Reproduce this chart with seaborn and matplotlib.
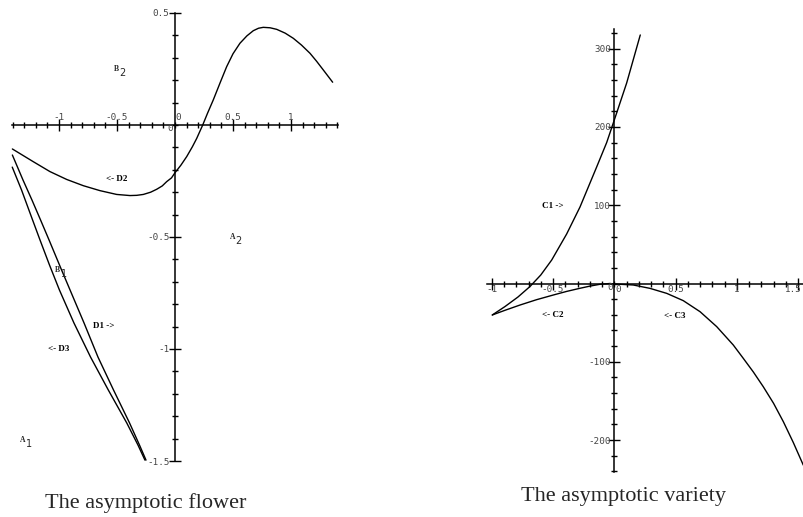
import numpy as np
import pandas as pd
import seaborn as sns
import matplotlib.pyplot as plt
from matplotlib.ticker import FixedLocator

# ------------------------------
# data
# ------------------------------
# left panel: the asymptotic flower
d2_x = [-1.402, -1.221, -1.078, -0.934, -0.790, -0.647, -0.503, -0.388, -0.330, -0.273,
        -0.210, -0.158, -0.110, -0.072, -0.030, 0.0, 0.050, 0.101, 0.150, 0.187, 0.239,
        0.280, 0.330, 0.390, 0.445, 0.500, 0.560, 0.620, 0.675, 0.720, 0.761, 0.820,
        0.877, 0.950, 1.020, 1.090, 1.164, 1.220, 1.278, 1.359]
d2_y = [-0.107, -0.164, -0.208, -0.243, -0.271, -0.293, -0.310, -0.315, -0.314, -0.310,
        -0.300, -0.287, -0.272, -0.253, -0.236, -0.213, -0.180, -0.141, -0.097, -0.060, 0.0,
        0.052, 0.112, 0.190, 0.260, 0.318, 0.365, 0.398, 0.421, 0.432, 0.436, 0.434,
        0.427, 0.410, 0.387, 0.357, 0.320, 0.285, 0.246, 0.191]

d1_x = [-1.402, -1.310, -1.233, -1.159, -1.086, -0.978, -0.879, -0.784, -0.664, -0.530,
        -0.392, -0.306, -0.250]
d1_y = [-0.134, -0.246, -0.335, -0.424, -0.513, -0.647, -0.768, -0.884, -1.036, -1.183,
        -1.330, -1.429, -1.496]

d3_x = [-1.403, -1.323, -1.237, -1.164, -1.082, -0.996, -0.871, -0.728, -0.575, -0.416,
        -0.319, -0.259]
d3_y = [-0.188, -0.290, -0.411, -0.513, -0.625, -0.737, -0.884, -1.036, -1.183, -1.330,
        -1.429, -1.496]

# right panel: the asymptotic variety
c1_x = [-0.996, -0.892, -0.786, -0.688, -0.600, -0.511, -0.389, -0.280, -0.144, -0.062,
        0.0, 0.101, 0.212]
c1_y = [-40.2, -29.4, -17.2, -3.8, 10.9, 30.0, 63.2, 97.7, 148.8, 180.1, 208.8, 256.1, 317.4]

c2_x = [-0.996, -0.892, -0.770, -0.635, -0.498, -0.389, -0.280, -0.198, -0.117, -0.035]
c2_y = [-40.2, -34.2, -27.5, -20.7, -14.7, -10.1, -6.1, -3.3, -1.0, 0.0]

c3_x = [-0.035, 0.0, 0.155, 0.291, 0.428, 0.563, 0.700, 0.836, 0.971, 1.053, 1.135, 1.216,
        1.300, 1.380, 1.461, 1.543]
c3_y = [0.0, -0.6, -1.9, -6.2, -12.6, -21.9, -36.0, -55.1, -78.5, -95.6, -113.0, -131.8,
        -153.0, -176.5, -203.0, -232.0]

left_xticks = [-1, -0.5, 0.5, 1]
left_xlabels = ['-1', '-0.5', '0.5', '1']
left_yticks = [-1.5, -1, -0.5, 0.5]
left_ylabels = ['-1.5', '-1', '-0.5', '0.5']
right_xticks = [-1, -0.5, 0.5, 1, 1.5]
right_xlabels = ['-1', '-0.5', '0.5', '1', '']
right_yticks = [-200, -100, 100, 200, 300]
right_ylabels = ['-200', '-100', '100', '200', '300']

flower = pd.concat([
    pd.DataFrame({'x': d2_x, 'y': d2_y, 'curve': 'D2'}),
    pd.DataFrame({'x': d1_x, 'y': d1_y, 'curve': 'D1'}),
    pd.DataFrame({'x': d3_x, 'y': d3_y, 'curve': 'D3'}),
])
variety = pd.concat([
    pd.DataFrame({'x': c1_x, 'y': c1_y, 'curve': 'C1'}),
    pd.DataFrame({'x': c2_x, 'y': c2_y, 'curve': 'C2'}),
    pd.DataFrame({'x': c3_x, 'y': c3_y, 'curve': 'C3'}),
])

sns.set_theme(style='white')
plt.rcParams['font.family'] = ['DejaVu Sans']

W, H = 804, 517
fig = plt.figure(figsize=(W / 100, H / 100), dpi=100)


def axes_at(ox, oy, sx, sy, xlim, ylim):
    # origin pixel (ox, oy), pixels per unit (sx, sy)
    left = ox + xlim[0] * sx
    right = ox + xlim[1] * sx
    top = oy - ylim[1] * sy
    bottom = oy - ylim[0] * sy
    ax = fig.add_axes([left / W, 1 - bottom / H, (right - left) / W, (bottom - top) / H])
    ax.set_xlim(*xlim)
    ax.set_ylim(*ylim)
    ax.patch.set_alpha(0)
    return ax


tick_font = dict(family='DejaVu Sans Mono', size=6.7, color='#444444')
lab_font = dict(family='Liberation Serif', weight='bold', size=6.5, color='black')


def style_axes(ax, xspine, x_minor, y_minor, xb, yb, xpad, ypad):
    for s in ax.spines.values():
        s.set_visible(False)
    ax.spines[xspine].set_visible(True)
    ax.spines[xspine].set_position('zero')
    ax.spines[xspine].set_bounds(*xb)
    ax.spines['left'].set_visible(True)
    ax.spines['left'].set_position('zero')
    ax.spines['left'].set_bounds(*yb)
    for s in (ax.spines[xspine], ax.spines['left']):
        s.set_color('black')
        s.set_linewidth(1.1)
    ax.xaxis.set_ticks_position(xspine)
    ax.yaxis.set_ticks_position('left')
    ax.xaxis.set_minor_locator(FixedLocator(x_minor))
    ax.yaxis.set_minor_locator(FixedLocator(y_minor))
    ax.tick_params(which='major', direction='inout', length=8, width=1.0, color='black')
    ax.tick_params(which='minor', direction='inout', length=5, width=1.0, color='black')
    ax.tick_params(axis='x', which='major', pad=xpad)
    ax.tick_params(axis='y', which='major', pad=ypad)
    for lab in ax.get_xticklabels() + ax.get_yticklabels():
        lab.set(**tick_font)


def sub_label(ax, x, y, letter, digit):
    ax.text(x, y, letter, ha='center', va='center', family='Liberation Serif',
            weight='bold', size=5.5)
    ax.annotate(digit, (x, y), xytext=(4.5, -3), textcoords='offset points',
                ha='center', va='center', family='DejaVu Sans', size=7)


# ------------------------------
# left panel
# ------------------------------
axl = axes_at(175, 125, 116, 224, (-1.42, 1.42), (-1.53, 0.53))
sns.lineplot(data=flower, x='x', y='y', units='curve', estimator=None, sort=False,
             color='black', lw=1.0, ax=axl, legend=False)
axl.set_xticks(left_xticks, left_xlabels)
axl.set_yticks(left_yticks, left_ylabels)
xmin_l = np.round(np.arange(-1.4, 1.41, 0.1), 2)
ymin_l = np.round(np.arange(-1.5, 0.51, 0.1), 2)
style_axes(axl, 'top', xmin_l, ymin_l, (-1.405, 1.405), (-1.5, 0.5), -1.5, 0)
axl.set_xlabel('')
axl.set_ylabel('')
axl.annotate('0', (0, 0), xytext=(2.5, 5.5), textcoords='offset points', ha='center', va='center', **tick_font)
axl.annotate('0', (0, 0), xytext=(-3.5, -2.5), textcoords='offset points', ha='center', va='center', **tick_font)

sub_label(axl, -0.509, 0.25, 'B', '2')
sub_label(axl, 0.494, -0.499, 'A', '2')
sub_label(axl, -1.010, -0.647, 'B', '1')
sub_label(axl, -1.310, -1.406, 'A', '1')
axl.text(-0.503, -0.242, '<- D2', ha='center', va='center', **lab_font)
axl.text(-0.612, -0.897, 'D1 ->', ha='center', va='center', **lab_font)
axl.text(-1.006, -1.001, '<- D3', ha='center', va='center', **lab_font)

# ------------------------------
# right panel
# ------------------------------
axr = axes_at(614.3, 283.5, 122.5, 0.783, (-1.06, 1.55), (-246, 330))
sns.lineplot(data=variety, x='x', y='y', units='curve', estimator=None, sort=False,
             color='black', lw=1.0, ax=axr, legend=False)
axr.set_xticks(right_xticks, right_xlabels)
axr.set_yticks(right_yticks, right_ylabels)
xmin_r = np.round(np.arange(-1.0, 1.51, 0.1), 2)
ymin_r = np.arange(-240, 321, 20)
style_axes(axr, 'bottom', xmin_r, ymin_r, (-1.04, 1.56), (-241, 325), -3, -1.5)
axr.set_xlabel('')
axr.set_ylabel('')
axr.annotate('0', (0, 0), xytext=(-3, -3), textcoords='offset points', ha='center', va='center', **tick_font)
axr.annotate('0', (0, 0), xytext=(2.5, -4.5), textcoords='offset points', ha='center', va='center', **tick_font)
# last x label sits on the figure edge, nudge it left
axr.annotate('1.5', (1.5, 0), xytext=(-3.5, -4), textcoords='offset points', ha='center', va='center', **tick_font)

axr.text(-0.504, 99, 'C1 ->', ha='center', va='center', **lab_font)
axr.text(-0.504, -40, '<- C2', ha='center', va='center', **lab_font)
axr.text(0.493, -41, '<- C3', ha='center', va='center', **lab_font)

# captions
fig.text(146 / W, 1 - 503 / H, 'The asymptotic flower', ha='center', va='center',
         family='Liberation Serif', size=16)
fig.text(624 / W, 1 - 497 / H, 'The asymptotic variety', ha='center', va='center',
         family='Liberation Serif', size=16)

fig.savefig('out.png', dpi=100)
